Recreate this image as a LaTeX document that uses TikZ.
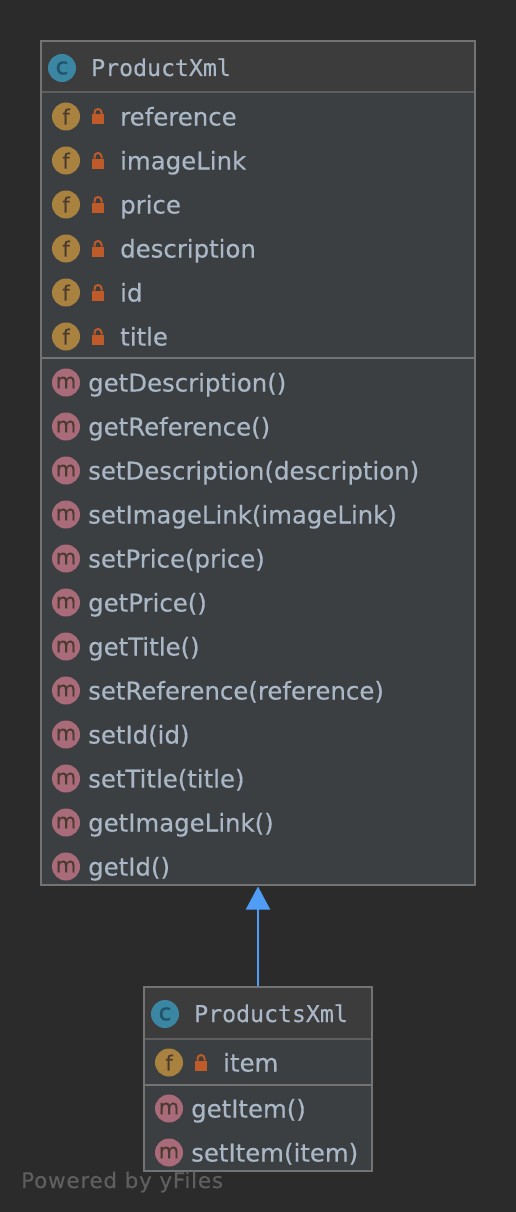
\documentclass[tikz,border=0pt]{standalone}
\usepackage{fontspec}
\setmainfont{DejaVu Sans}[RawFeature={embolden=0.35}]
\newfontfamily\monof{DejaVu Sans Mono}[RawFeature={embolden=0.35}]
\newfontfamily\wmf{DejaVu Sans}[LetterSpace=3.5,RawFeature={embolden=0.2}]
\newfontfamily\iconf{DejaVu Sans}[RawFeature={embolden=1.2}]
\usetikzlibrary{arrows.meta}
\definecolor{bgc}{HTML}{2B2B2B}
\definecolor{headc}{HTML}{3C3C3C}
\definecolor{bodyc}{HTML}{3C3F41}
\definecolor{linec}{HTML}{737373}
\definecolor{headsep}{HTML}{5E5E5E}
\definecolor{txtc}{HTML}{A9B7C6}
\definecolor{arrowc}{HTML}{4F9DF5}
\definecolor{cicon}{HTML}{3B87A3}
\definecolor{ciconl}{HTML}{21546A}
\definecolor{ficon}{HTML}{A9823F}
\definecolor{micon}{HTML}{A96B79}
\definecolor{iconl}{HTML}{4A3A30}
\definecolor{lockc}{HTML}{BF5A29}
\definecolor{wmc}{HTML}{5F5F5F}
\tikzset{
  classbox/.style={draw=linec,line width=2pt,fill=bodyc,anchor=north west,inner sep=0pt,outer sep=1pt},
  icon/.style={circle,minimum size=28pt,inner sep=0pt,text=iconl,font=\fontsize{21}{21}\selectfont},
  cicn/.style={icon,fill=cicon,text=ciconl,font=\iconf\fontsize{23}{23}\selectfont},
  rowtext/.style={anchor=base west,inner sep=0pt,text=txtc,font=\fontsize{24.4}{24.4}\selectfont},
  titletext/.style={anchor=base west,inner sep=0pt,text=txtc,font=\monof\fontsize{23.2}{23.2}\selectfont},
  sepline/.style={draw=linec,line width=2pt},
  headline/.style={draw=headsep,line width=2pt},
  inherits/.style={draw=arrowc,line width=2pt,shorten >=0.5pt,-{Triangle[width=24pt,length=23pt,fill=arrowc]}},
}
\newcommand{\lockat}[2]{%
  \fill[lockc] (#1-6,#2-2) rectangle (#1+6,#2+8);
  \draw[lockc,line width=2pt] (#1-3.5,#2-2) -- (#1-3.5,#2-4) arc[start angle=180,end angle=360,radius=3.5] -- (#1+3.5,#2-2);
}
% #1 name, #2 icon x, #3 y centre, #4 text x, #5 text
\newcommand{\fieldrow}[5]{%
  \node[icon,fill=ficon] (#1icon) at (#2,#3) {f};
  \lockat{#2+32}{#3}
  \node[rowtext] (#1) at (#4,#3+9) {#5};
}
\newcommand{\methodrow}[5]{%
  \node[icon,fill=micon] (#1icon) at (#2,#3) {m};
  \node[rowtext] (#1) at (#4,#3+9) {#5};
}
\begin{document}
\begin{tikzpicture}[x=1pt,y=-1pt]
\useasboundingbox (0,0) rectangle (516,1212);
\fill[bgc] (0,0) rectangle (516,1212);
% ProductXml
\node[classbox,minimum width=434pt,minimum height=844pt] (product) at (40,40) {};
\fill[headc] (42,42) rectangle (474,91);
\draw[headline] (42,92) -- (474,92);
\draw[sepline] (41,358) -- (475,358);
\node[cicn] (producticon) at (62,68) {c};
\node[titletext] (producttitle) at (91,76) {ProductXml};
\fieldrow{freference}{66}{116.5}{120}{reference}
\fieldrow{fimagelink}{66}{160.5}{120}{imageLink}
\fieldrow{fprice}{66}{204.5}{120}{price}
\fieldrow{fdescription}{66}{248.5}{120}{description}
\fieldrow{fid}{66}{292.5}{120}{id}
\fieldrow{ftitle}{66}{336.5}{120}{title}
\methodrow{mgetdesc}{66}{382.5}{88}{getDescription()}
\methodrow{mgetref}{66}{426.5}{88}{getReference()}
\methodrow{msetdesc}{66}{470.5}{88}{setDescription(description)}
\methodrow{msetimg}{66}{514.5}{88}{setImageLink(imageLink)}
\methodrow{msetprice}{66}{558.5}{88}{setPrice(price)}
\methodrow{mgetprice}{66}{602.5}{88}{getPrice()}
\methodrow{mgettitle}{66}{646.5}{88}{getTitle()}
\methodrow{msetref}{66}{690.5}{88}{setReference(reference)}
\methodrow{msetid}{66}{734.5}{88}{setId(id)}
\methodrow{msettitle}{66}{778.5}{88}{setTitle(title)}
\methodrow{mgetimg}{66}{822.5}{88}{getImageLink()}
\methodrow{mgetid}{66}{866.5}{88}{getId()}
% ProductsXml
\node[classbox,minimum width=228pt,minimum height=184pt] (products) at (143,986) {};
\fill[headc] (145,988) rectangle (371,1038);
\draw[headline] (145,1039) -- (371,1039);
\draw[sepline] (144,1085) -- (372,1085);
\node[cicn] (productsicon) at (165,1014) {c};
\node[titletext] (productstitle) at (194,1022) {ProductsXml};
\fieldrow{fitem}{169}{1062.5}{223}{item}
\methodrow{mgetitem}{169}{1108.5}{191}{getItem()}
\methodrow{msetitem}{169}{1152.5}{191}{setItem(item)}
% Inheritance
\draw[inherits] (products.north) -- (product.south);
% Watermark
\node[anchor=base west,inner sep=0pt,text=wmc,font=\wmf\fontsize{21.5}{22}\selectfont] (wm) at (21,1188) {Powered by yFiles};
\end{tikzpicture}
\end{document}
